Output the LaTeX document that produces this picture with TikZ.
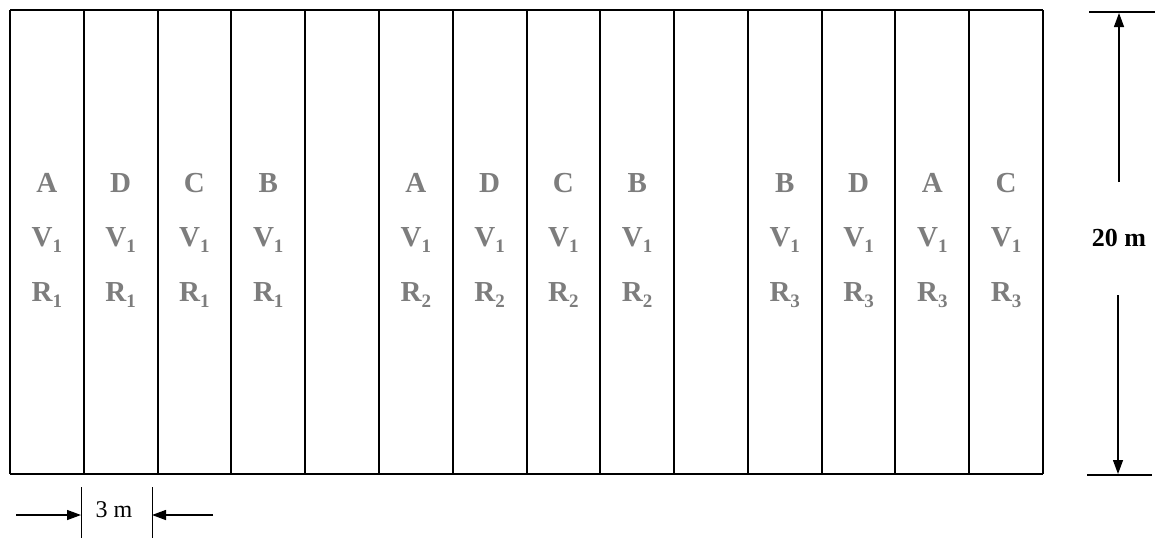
\documentclass[tikz,border=0pt]{standalone}
\usepackage{fontspec}
\setmainfont{Liberation Serif}
\usetikzlibrary{arrows.meta}
\definecolor{labgray}{RGB}{125,125,125}
\newcommand\plotsub[1]{\raisebox{-0.45ex}{\fontsize{19}{19}\selectfont #1}}
\begin{document}
\begin{tikzpicture}[x=1pt,y=-1pt,
  plotline/.style={line width=2pt,black},
  edgeline/.style={line width=1.3pt,black},
  lab/.style={text=labgray,font=\fontsize{29}{31}\selectfont\bfseries,inner sep=0pt},
  dimline/.style={line width=1.3pt,black},
  dimarrow/.style={line width=1.3pt,black,-{Triangle[length=14pt,width=10pt]}},
  dimtext/.style={font=\fontsize{26}{28}\selectfont\bfseries,inner sep=1pt},
  smalltext/.style={font=\fontsize{24}{26}\selectfont,inner sep=1pt}]
\useasboundingbox (0,0) rectangle (1158,538);
\fill[white] (0,0) rectangle (1158,538);
% field outline
\draw[edgeline] (10,10) -- (1043,10);
\draw[edgeline] (10,474) -- (1043,474);
\foreach \i in {0,...,14}{
  \draw[plotline] ({10+\i*73.786},10) -- ({10+\i*73.786},474);
}
% plot labels
\foreach \c/\l/\r in {1/A/1,2/D/1,3/C/1,4/B/1,6/A/2,7/D/2,8/C/2,9/B/2,11/B/3,12/D/3,13/A/3,14/C/3}{
  \node[lab] (a\c) at ({10+(\c-0.5)*73.786},183) {\l};
  \node[lab] (v\c) at ({10+(\c-0.5)*73.786},240) {V\plotsub{1}};
  \node[lab] (r\c) at ({10+(\c-0.5)*73.786},295) {R\plotsub{\r}};
}
% 20 m dimension
\coordinate (tt1) at (1089,12);
\coordinate (tt2) at (1155,12);
\coordinate (bt1) at (1087,475);
\coordinate (bt2) at (1152,475);
\draw[dimline] (tt1) -- (tt2);
\draw[dimline] (bt1) -- (bt2);
\coordinate (ua) at (1119,182);
\coordinate (ub) at (1119,13);
\coordinate (la) at (1118,295);
\coordinate (lb) at (1118,474);
\draw[dimarrow] (ua) -- (ub);
\draw[dimarrow] (la) -- (lb);
\node[dimtext] (d20) at (1119,238) {20 m};
% 3 m dimension
\coordinate (e1a) at (81,487);
\coordinate (e1b) at (81,538);
\coordinate (e2a) at (152,487);
\coordinate (e2b) at (152,538);
\draw[line width=1pt] (e1a) -- (e1b);
\draw[line width=1pt] (e2a) -- (e2b);
\coordinate (al) at (16,515);
\coordinate (ar) at (213,515);
\draw[dimarrow] (al) -- (e1a |- al);
\draw[dimarrow] (ar) -- (e2a |- ar);
\node[smalltext] (d3) at (114,510) {3 m};
\end{tikzpicture}
\end{document}
